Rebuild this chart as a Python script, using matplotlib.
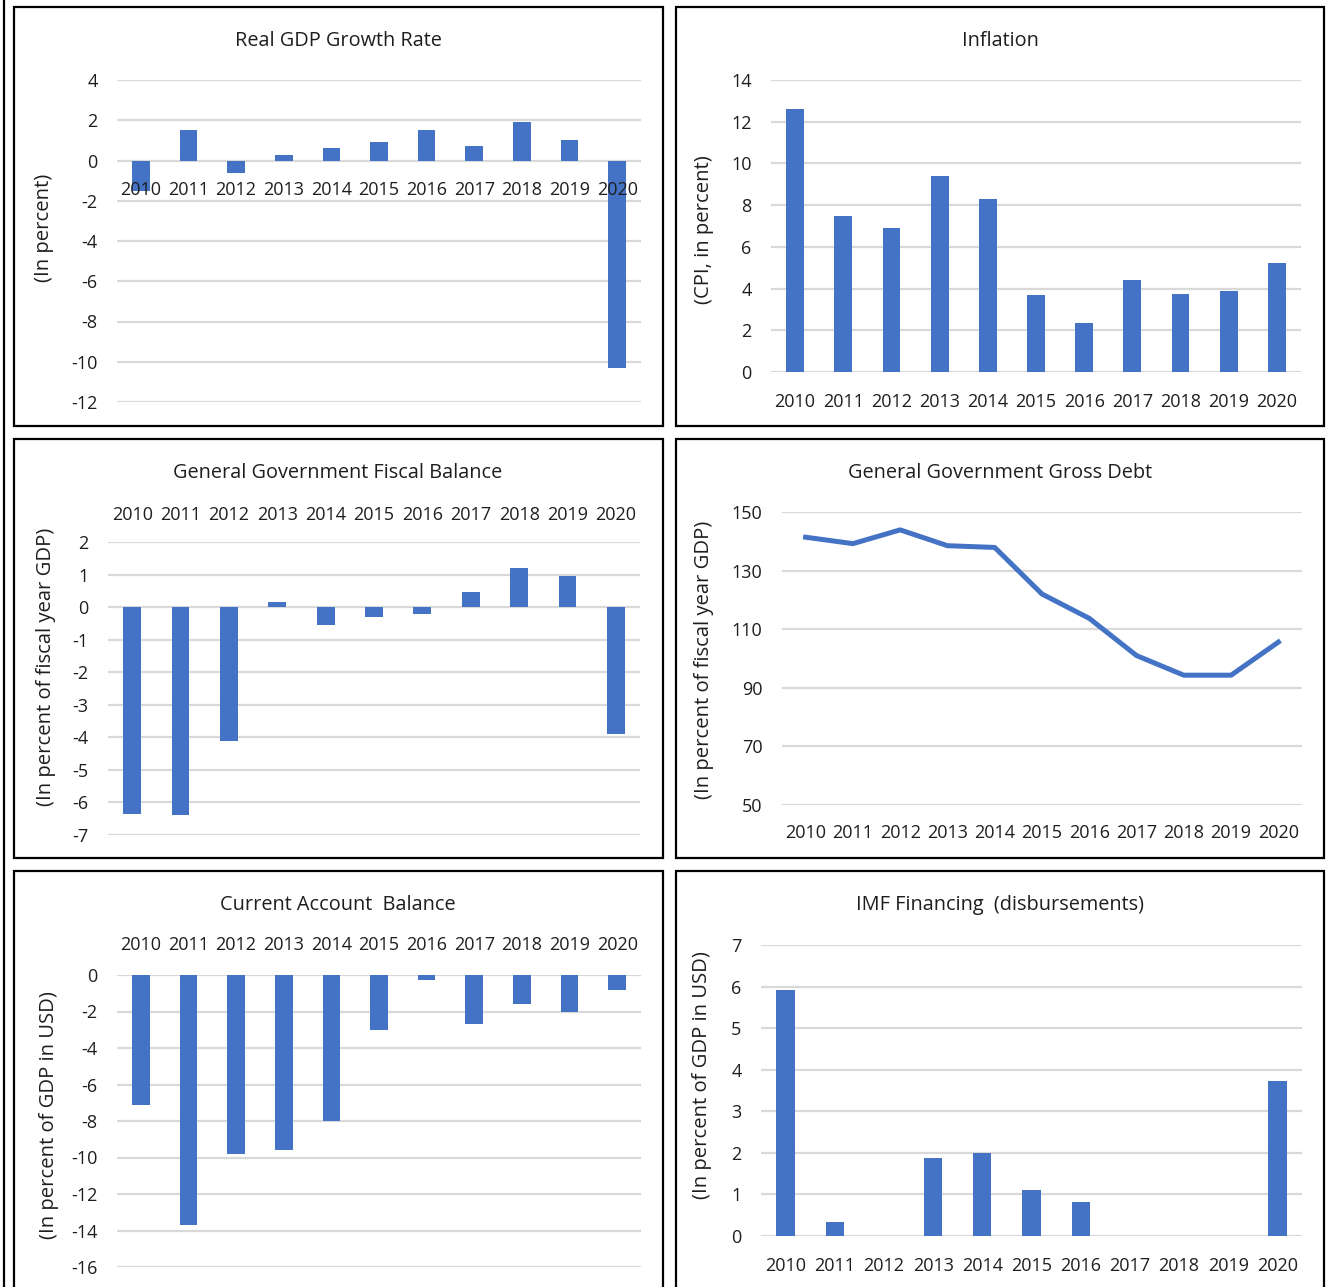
import numpy as np
import matplotlib.pyplot as plt
from matplotlib.patches import Rectangle

plt.rcParams['font.family'] = ['Open Sans', 'DejaVu Sans']

years = ['2010', '2011', '2012', '2013', '2014', '2015',
         '2016', '2017', '2018', '2019', '2020']

gdp_growth = [-1.5, 1.5, -0.6, 0.25, 0.6, 0.9, 1.5, 0.7, 1.9, 1.0, -10.3]
inflation = [12.6, 7.5, 6.9, 9.4, 8.3, 3.7, 2.35, 4.4, 3.75, 3.9, 5.25]
fiscal_balance = [-6.35, -6.4, -4.1, 0.15, -0.55, -0.3, -0.2, 0.45, 1.2, 0.95, -3.9]
gross_debt = [141.4, 139.2, 143.9, 138.5, 137.9, 122.0, 113.7, 101.0, 94.3, 94.3, 105.6]
current_account = [-7.1, -13.7, -9.8, -9.6, -8.0, -3.0, -0.3, -2.7, -1.6, -2.0, -0.8]
imf_financing = [5.92, 0.33, 0.0, 1.87, 1.99, 1.1, 0.82, 0.0, 0.0, 0.0, 3.74]

BLUE = '#4472C4'
GRID = '#D9D9D9'
TXT = '#1E1E1E'
W, H = 1337, 1287

fig = plt.figure(figsize=(W / 100, H / 100), dpi=100)


def px_axes(x0, y0, x1, y1):
    return fig.add_axes([x0 / W, 1 - y1 / H, (x1 - x0) / W, (y1 - y0) / H])


def frame(x0, y0, x1, y1):
    fig.patches.append(Rectangle((x0 / W, 1 - y1 / H), (x1 - x0) / W, (y1 - y0) / H,
                                 transform=fig.transFigure, fill=False,
                                 edgecolor='black', linewidth=1.6))


def label_texts(title, tx, ty, ylabel, lx, ly):
    fig.text(tx / W, 1 - ty / H, title, ha='center', va='center',
             fontsize=14.3, color=TXT)
    fig.text(lx / W, 1 - ly / H, ylabel, ha='center', va='center',
             rotation=90, fontsize=14.6, color=TXT)


def style(ax, ylim, yticks, xpos='bottom', pad=8):
    x = np.arange(len(years))
    ax.set_xlim(-0.5, len(years) - 0.5)
    ax.set_ylim(*ylim)
    ax.set_yticks(yticks)
    ax.set_yticklabels([str(t) for t in yticks])
    ax.set_xticks(x)
    ax.set_xticklabels(years)
    # gridlines kept under the bars, tick labels drawn over them
    for t in yticks:
        ax.axhline(t, color=GRID, linewidth=1.6, zorder=0.5)
    ax.set_axisbelow(False)
    for s in ax.spines.values():
        s.set_visible(False)
    ax.tick_params(axis='y', length=0, pad=14, labelsize=13, labelcolor=TXT)
    ax.tick_params(axis='x', length=0, pad=pad, labelsize=13, labelcolor=TXT)
    if xpos == 'top':
        ax.xaxis.tick_top()
        ax.tick_params(axis='x', length=0, pad=pad)
    ax.patch.set_alpha(0)


x = np.arange(len(years))
bw = 0.37

# outer page edge
fig.add_artist(plt.Line2D([3.5 / W, 3.5 / W], [0, 1], transform=fig.transFigure,
                          color='black', linewidth=1.6))

# Real GDP growth
frame(14, 7, 663, 426)
ax1 = px_axes(117, 80, 641, 402)
ax1.bar(x, gdp_growth, width=bw, color=BLUE, zorder=1)
style(ax1, (-12, 4), list(range(-12, 5, 2)), pad=15)
ax1.spines['bottom'].set_position(('data', 0))
label_texts('Real GDP Growth Rate', 338, 41, '(In percent)', 44, 228)

# Inflation
frame(676, 7, 1324, 426)
ax2 = px_axes(771, 80, 1301, 372)
ax2.bar(x, inflation, width=bw, color=BLUE, zorder=1)
style(ax2, (0, 14), list(range(0, 15, 2)), pad=15)
label_texts('Inflation', 1000, 41, '(CPI, in percent)', 704, 230)

# Fiscal balance
frame(14, 439, 663, 858)
ax3 = px_axes(108, 542, 640, 835)
ax3.bar(x, fiscal_balance, width=bw, color=BLUE, zorder=1)
style(ax3, (-7, 2), list(range(-7, 3)), xpos='top', pad=13)
label_texts('General Government Fiscal Balance', 338, 473,
            '(In percent of fiscal year GDP)', 46, 667)

# Gross debt
frame(676, 439, 1324, 858)
ax4 = px_axes(782, 512, 1302, 805)
ax4.plot(x, gross_debt, color=BLUE, linewidth=3.6, zorder=1,
         solid_joinstyle='round')
style(ax4, (50, 150), list(range(50, 151, 20)), pad=14)
label_texts('General Government Gross Debt', 1000, 473,
            '(In percent of fiscal year GDP)', 704, 660)

# Current account
frame(14, 871, 663, 1300)
ax5 = px_axes(117, 975, 641, 1267)
ax5.bar(x, current_account, width=bw, color=BLUE, zorder=1)
style(ax5, (-16, 0), list(range(-16, 1, 2)), xpos='top', pad=15)
label_texts('Current Account  Balance', 338, 905,
            '(In percent of GDP in USD)', 49, 1115)

# IMF financing
frame(676, 871, 1324, 1300)
ax6 = px_axes(761, 945, 1302, 1236)
ax6.bar(x, imf_financing, width=bw, color=BLUE, zorder=1)
style(ax6, (0, 7), list(range(0, 8)), pad=15)
label_texts('IMF Financing  (disbursements)', 1000, 905,
            '(In percent of GDP in USD)', 702, 1075)

fig.savefig('out.png', dpi=100, facecolor='white')
